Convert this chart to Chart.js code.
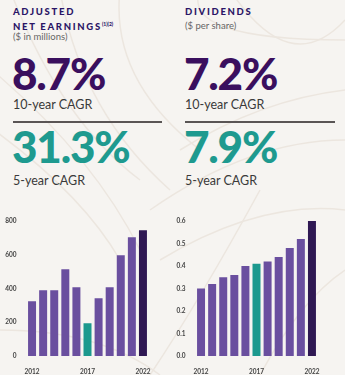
<!DOCTYPE html>
<html>
<head>
<meta charset="utf-8">
<script src="https://cdn.jsdelivr.net/npm/chart.js@4"></script>
<style>
  html, body { margin: 0; padding: 0; }
  body { width: 345px; height: 375px; background: #f6f4f1; position: relative; overflow: hidden; font-family: Lato, "Noto Sans", sans-serif; }
  .bg { position: absolute; left: 0; top: 0; }
  .abs { position: absolute; white-space: nowrap; }
  .title { font-weight: 900; font-size: 9.5px; letter-spacing: 1.7px; color: #2b1566; line-height: 12px; }
  .title sup { font-size: 5px; letter-spacing: 0; vertical-align: 4px; }
  .unit { font-size: 9.5px; color: #666; }
  .big { font-weight: 900; font-size: 44px; letter-spacing: -1.2px; line-height: 44px; }
  .purple { color: #3a0f5e; }
  .teal { color: #1e9a8f; }
  .sub { font-size: 12.5px; color: #3a3a3a; }
  .rule { position: absolute; height: 1.5px; background: #5a5555; }
  canvas { position: absolute; }
</style>
</head>
<body>
<svg class="bg" width="345" height="375">
  <g fill="none" stroke="#ece6df" stroke-width="1.5">
    <path d="M-20 60 Q 90 150 140 250"/>
    <path d="M-20 120 Q 80 190 120 260"/>
    <path d="M10 -10 Q 60 120 140 180"/>
    <path d="M60 -10 Q 80 110 170 190"/>
    <path d="M120 -10 Q 110 80 200 150"/>
    <path d="M200 -10 Q 180 40 345 40"/>
    <path d="M230 -10 Q 290 80 345 20"/>
    <path d="M180 150 Q 260 100 345 90"/>
    <path d="M150 210 Q 250 140 345 140"/>
    <path d="M160 260 Q 260 200 345 210"/>
    <path d="M150 375 Q 200 300 260 190"/>
    <path d="M0 330 Q 100 330 160 375"/>
    <path d="M260 375 Q 300 300 345 270"/>
  </g>
</svg>

<div class="abs title" style="left:13px; top:6px;">ADJUSTED<br>NET EARNINGS<sup>(1)(2)</sup></div>
<div class="abs unit" style="left:13px; top:31px;">($ in millions)</div>
<div class="abs big purple" style="left:12px; top:51px;">8.7%</div>
<div class="abs sub" style="left:13px; top:97px;">10-year CAGR</div>
<div class="rule" style="left:13px; top:121px; width:149px;"></div>
<div class="abs big teal" style="left:12px; top:124px;">31.3%</div>
<div class="abs sub" style="left:13px; top:173px;">5-year CAGR</div>

<div class="abs title" style="left:185px; top:6px;">DIVIDENDS</div>
<div class="abs unit" style="left:185px; top:20px;">($ per share)</div>
<div class="abs big purple" style="left:184px; top:51px;">7.2%</div>
<div class="abs sub" style="left:185px; top:97px;">10-year CAGR</div>
<div class="rule" style="left:185px; top:121px; width:150px;"></div>
<div class="abs big teal" style="left:184px; top:124px;">7.9%</div>
<div class="abs sub" style="left:185px; top:173px;">5-year CAGR</div>

<canvas id="earnings" style="left:0; top:210px;" width="172" height="165"></canvas>
<canvas id="dividends" style="left:172px; top:210px;" width="173" height="165"></canvas>

<script>
// years shown on both charts
const years = ['2012', '2013', '2014', '2015', '2016', '2017', '2018', '2019', '2020', '2021', '2022'];
const shownYears = ['2012', '2017', '2022'];

// adjusted net earnings, $ millions
const earnings = [324, 389, 389, 514, 407, 194, 342, 407, 597, 703, 745];
// dividends, $ per share
const dividends = [0.30, 0.32, 0.35, 0.36, 0.40, 0.41, 0.42, 0.44, 0.48, 0.52, 0.60];

const earningsTicks = [0, 200, 400, 600, 800];
const dividendTicks = [0, 0.1, 0.2, 0.3, 0.4, 0.5, 0.6];

const PURPLE = '#6a4f9f';
const TEAL = '#1c998e';
const DARK = '#2f1853';

// 2017 is highlighted, latest year is dark
function barColors(n) {
    return years.map((y, i) => y === '2017' ? TEAL : (i === n - 1 ? DARK : PURPLE));
}

function makeChart(id, values, ticks, maxVal, yWidth, padRight, fmt) {
    const ctx = document.getElementById(id).getContext('2d');
    return new Chart(ctx, {
        type: 'bar',
        data: {
            labels: years,
            datasets: [{
                data: values,
                backgroundColor: barColors(values.length),
                barPercentage: 0.72,
                categoryPercentage: 1.0
            }]
        },
        options: {
            responsive: false,
            animation: false,
            layout: { padding: { top: 11, right: padRight, left: 0, bottom: 0 } },
            plugins: { legend: { display: false }, tooltip: { enabled: false } },
            scales: {
                x: {
                    grid: { display: false },
                    border: { display: false },
                    afterFit: (s) => { s.height = 19; },
                    ticks: {
                        autoSkip: false,
                        maxRotation: 0,
                        padding: 4,
                        color: '#444',
                        font: { family: 'Lato', size: 6.5, weight: 'bold' },
                        callback: function (v, i) {
                            return shownYears.includes(years[i]) ? years[i] : '';
                        }
                    }
                },
                y: {
                    min: 0,
                    max: maxVal,
                    grid: { display: false },
                    border: { display: false },
                    afterFit: (s) => { s.width = yWidth; },
                    afterBuildTicks: (s) => { s.ticks = ticks.map(v => ({ value: v })); },
                    ticks: {
                        padding: 2,
                        color: '#444',
                        font: { family: 'Lato', size: 6.5, weight: 'bold' },
                        callback: fmt
                    }
                }
            }
        }
    });
}

makeChart('earnings', earnings, earningsTicks, 800, 26.5, 23.5, v => String(v));
makeChart('dividends', dividends, dividendTicks, 0.6, 23.5, 27.5, v => v.toFixed(1));
</script>
</body>
</html>
